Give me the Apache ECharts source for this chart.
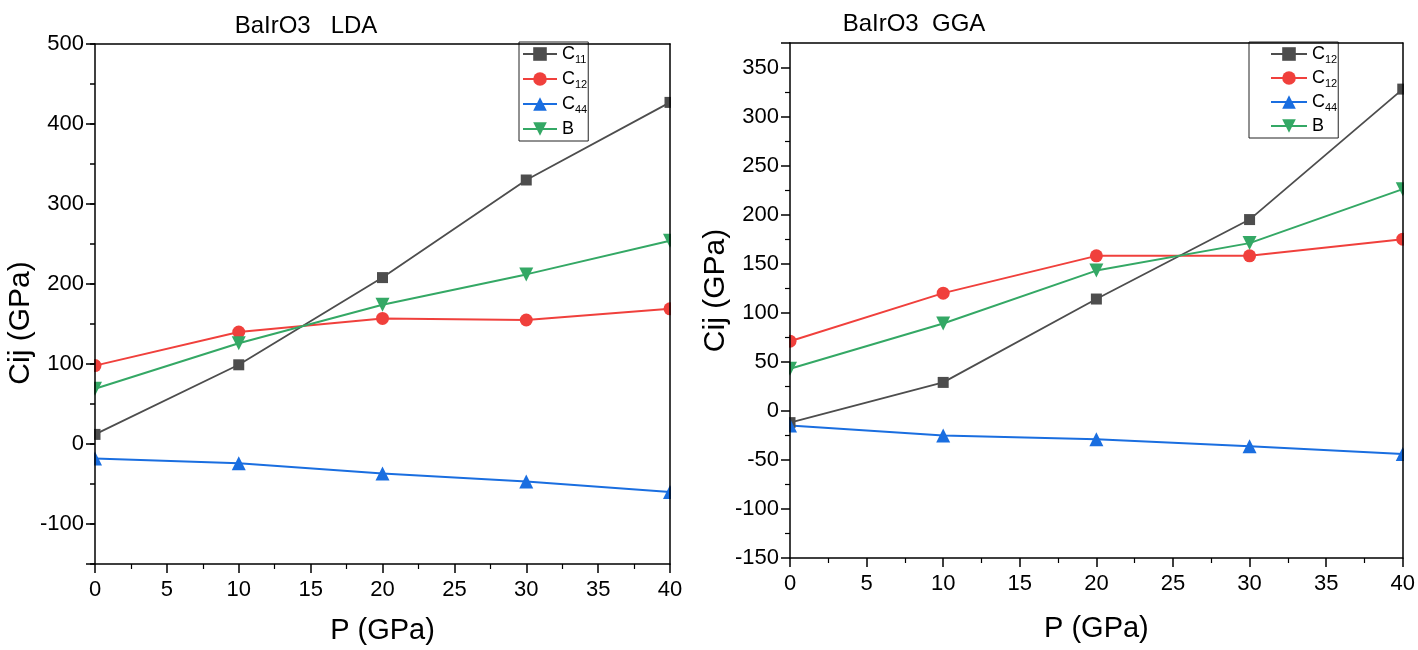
<!DOCTYPE html>
<html>
<head>
<meta charset="utf-8">
<script src="https://cdn.jsdelivr.net/npm/echarts@6/dist/echarts.min.js"></script>
<style>
  html, body { margin: 0; padding: 0; background: #fff; }
  #chart { width: 1418px; height: 650px; }
</style>
</head>
<body>
<div id="chart"></div>
<script>
// Pressure points (GPa)
const pressure = [0, 10, 20, 30, 40];

// BaIrO3, LDA elastic constants (GPa)
const ldaC11 = [12, 99, 208, 330, 427];
const ldaC12 = [98, 140, 157, 155, 169];
const ldaC44 = [-18, -24, -37, -47, -60];
const ldaB   = [69, 126, 174, 212, 254];

// BaIrO3, GGA elastic constants (GPa)
const ggaC12a = [-12, 29, 114, 195, 328];
const ggaC12b = [71, 120, 158, 158, 175];
const ggaC44  = [-15, -25, -29, -36, -44];
const ggaB    = [43, 89, 143, 171, 226];

// Long (labelled) ticks on the LDA Cij axis
const ldaMajorTicks = [-150, -100, 0, 100, 200, 300, 400, 500];

// Legend labels: main letter and subscript
const ldaLabels = [['C', '11'], ['C', '12'], ['C', '44'], ['B', '']];
const ggaLabels = [['C', '12'], ['C', '12'], ['C', '44'], ['B', '']];

const titles = ['BaIrO3   LDA', 'BaIrO3  GGA'];

const FONT = 'Liberation Sans, Arial, sans-serif';
const colors = ['#4D4D4D', '#F0403C', '#1A6EE0', '#34A865'];
const symbols = ['rect', 'circle', 'triangle', 'triangle'];
const symbolSizes = [11, 13, 14, 14];
const symbolRotates = [0, 0, 0, 180];

// Plot areas (pixels)
const grids = [
  { left: 95, top: 44, width: 575, height: 523 },
  { left: 790, top: 43, width: 613, height: 515 }
];

const yRanges = [
  { min: -150, max: 500, interval: 50, labelStep: 100 },
  { min: -150, max: 375, interval: 50, labelStep: 50 }
];

function pairs(ys) { return pressure.map((p, i) => [p, ys[i]]); }

function makeSeries(gridIdx, names, sets) {
  return sets.map((ys, i) => ({
    name: names[i],
    type: 'line',
    xAxisIndex: gridIdx * 2,
    yAxisIndex: gridIdx * 2,
    data: pairs(ys),
    symbol: symbols[i],
    symbolSize: symbolSizes[i],
    symbolRotate: symbolRotates[i],
    lineStyle: { color: colors[i], width: i === 0 ? 1.8 : 2 },
    itemStyle: { color: colors[i] },
    z: 2,
    animation: false
  }));
}

const ldaNames = ['LDA-C11', 'LDA-C12', 'LDA-C44', 'LDA-B'];
const ggaNames = ['GGA-C12a', 'GGA-C12b', 'GGA-C44', 'GGA-B'];
const labelOf = {};
ldaNames.forEach((n, i) => labelOf[n] = ldaLabels[i]);
ggaNames.forEach((n, i) => labelOf[n] = ggaLabels[i]);

function legendFormatter(name) {
  const [m, s] = labelOf[name];
  return s ? `{m|${m}}{s|${s}}` : `{m|${m}}`;
}

const legendText = {
  fontFamily: FONT, color: '#000',
  rich: {
    m: { fontFamily: FONT, fontSize: 18, lineHeight: 22, color: '#000' },
    s: { fontFamily: FONT, fontSize: 11, lineHeight: 11, verticalAlign: 'bottom', color: '#000' }
  }
};

const tickLine = { color: '#000', width: 1.5 };

function xAxes(gi) {
  return [{
    gridIndex: gi, type: 'value', min: 0, max: 40, interval: 5, z: 4,
    name: 'P (GPa)', nameLocation: 'middle', nameGap: gi === 0 ? 52 : 56,
    nameTextStyle: { fontFamily: FONT, fontSize: 29, color: '#000' },
    axisLine: { show: true, onZero: false, lineStyle: tickLine },
    axisTick: { show: true, inside: false, length: 9, lineStyle: tickLine },
    minorTick: { show: true, splitNumber: 2, length: 5, lineStyle: { color: '#000', width: 1.2 } },
    axisLabel: { fontFamily: FONT, fontSize: 22, color: '#000', margin: 15 },
    splitLine: { show: false }
  }, {
    gridIndex: gi, type: 'value', min: 0, max: 40, position: 'top', z: 4,
    axisLine: { show: true, onZero: false, lineStyle: tickLine },
    axisTick: { show: false }, axisLabel: { show: false }, splitLine: { show: false }
  }];
}

function yAxes(gi) {
  const r = yRanges[gi];
  const twoLevel = r.labelStep !== r.interval;
  return [{
    gridIndex: gi, type: 'value', min: r.min, max: r.max, interval: r.interval, z: 4,
    name: 'Cij (GPa)', nameLocation: 'middle', nameGap: gi === 0 ? 48 : 52,
    nameTextStyle: { fontFamily: FONT, fontSize: 30, color: '#000',
      padding: gi === 0 ? [0, 38, 0, 0] : [0, 0, 0, 20] },
    axisLine: { show: true, onZero: false, lineStyle: tickLine },
    axisTick: { show: true, inside: false, length: twoLevel ? 5 : 9, lineStyle: tickLine },
    minorTick: { show: !twoLevel, splitNumber: 2, length: 5, lineStyle: { color: '#000', width: 1.2 } },
    axisLabel: { fontFamily: FONT, fontSize: 22, color: '#000', margin: 11,
      formatter: v => (v % r.labelStep === 0 && v <= r.max && !(twoLevel && v === r.min)) ? String(v) : '' },
    splitLine: { show: false }
  }, {
    gridIndex: gi, type: 'value', min: r.min, max: r.max, position: 'right', z: 4,
    axisLine: { show: true, onZero: false, lineStyle: tickLine },
    axisTick: { show: false }, axisLabel: { show: false }, splitLine: { show: false }
  }];
}

// White strips just outside the left/right frame lines so markers sitting
// on the frame appear cut by the plot edge
function edgeMasks() {
  const out = [];
  grids.forEach(g => {
    out.push({ type: 'rect', z: 3, silent: true,
      shape: { x: g.left - 12, y: g.top + 1, width: 11, height: g.height - 2 },
      style: { fill: '#fff' } });
    out.push({ type: 'rect', z: 3, silent: true,
      shape: { x: g.left + g.width + 1, y: g.top + 1, width: 12, height: g.height - 2 },
      style: { fill: '#fff' } });
  });
  return out;
}

const series = [
  ...makeSeries(0, ldaNames, [ldaC11, ldaC12, ldaC44, ldaB]),
  ...makeSeries(1, ggaNames, [ggaC12a, ggaC12b, ggaC44, ggaB]),
  // long ticks at the labelled values of the LDA Cij axis
  {
    type: 'custom', xAxisIndex: 0, yAxisIndex: 0, z: 5, silent: true,
    data: ldaMajorTicks.map(v => [0, v]),
    renderItem: (params, api) => {
      const p = api.coord([api.value(0), api.value(1)]);
      return { type: 'line',
        shape: { x1: p[0] - 9, y1: p[1], x2: p[0], y2: p[1] },
        style: { stroke: '#000', lineWidth: 1.5 } };
    }
  }
];

const chart = echarts.init(document.getElementById('chart'), null, { renderer: 'canvas' });

chart.setOption({
  animation: false,
  backgroundColor: '#fff',
  title: [
    { text: titles[0], left: 306, top: 14, textAlign: 'center', padding: 0,
      textStyle: { fontFamily: FONT, fontSize: 24, fontWeight: 'normal', color: '#000' } },
    { text: titles[1], left: 914, top: 12, textAlign: 'center', padding: 0,
      textStyle: { fontFamily: FONT, fontSize: 24, fontWeight: 'normal', color: '#000' } }
  ],
  grid: grids.map(g => Object.assign({ containLabel: false }, g)),
  xAxis: [...xAxes(0), ...xAxes(1)],
  yAxis: [...yAxes(0), ...yAxes(1)],
  legend: [
    { data: ldaNames, orient: 'vertical', left: 519, top: 42, padding: [3, 1, 3, 3],
      itemWidth: 34, itemHeight: 17, itemGap: 5, borderColor: '#222', borderWidth: 1,
      backgroundColor: '#fff', selectedMode: false, textStyle: legendText, formatter: legendFormatter },
    { data: ggaNames, orient: 'vertical', left: 1249, top: 42, padding: [3, 1, 3, 21],
      itemWidth: 36, itemHeight: 17, itemGap: 4, borderColor: '#222', borderWidth: 1,
      backgroundColor: '#fff', selectedMode: false, textStyle: legendText, formatter: legendFormatter }
  ],
  graphic: edgeMasks(),
  series: series
});
</script>
</body>
</html>
